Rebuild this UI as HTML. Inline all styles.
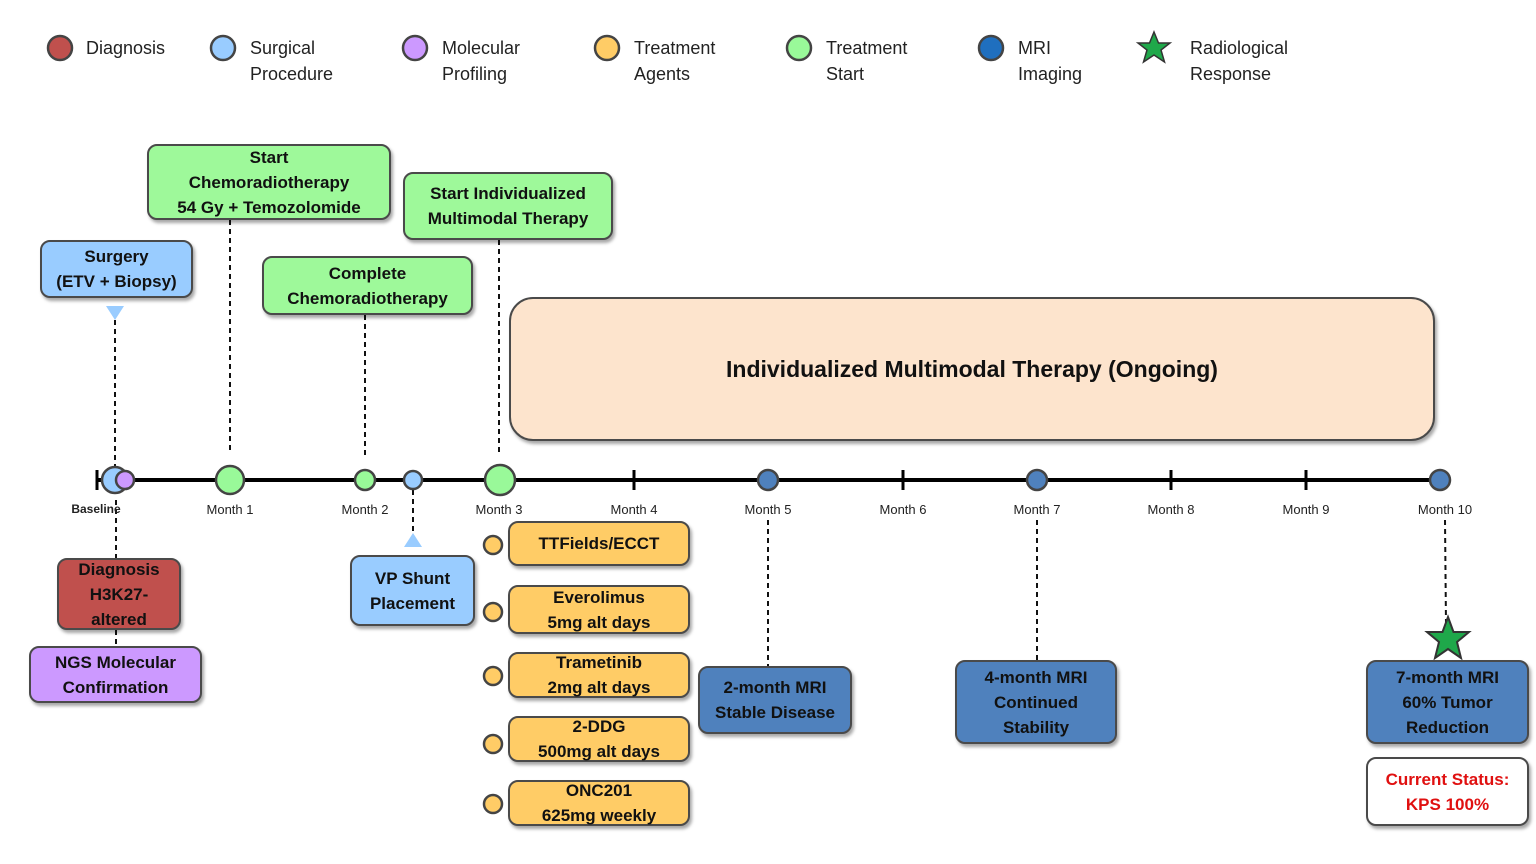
<!DOCTYPE html>
<html><head><meta charset="utf-8"><style>
html,body{margin:0;padding:0;background:#fff;}
body{width:1536px;height:864px;position:relative;overflow:hidden;font-family:"Liberation Sans",sans-serif;}
.b{position:absolute;box-sizing:border-box;border:2px solid #4a4a4a;border-radius:10px;display:flex;align-items:center;justify-content:center;text-align:center;font-weight:bold;font-size:17px;line-height:25px;color:#111;box-shadow:2px 3px 3px rgba(0,0,0,0.35);}
.g{background:#9ef99a;}
.lb{background:#99ccff;}
.o{background:#ffcc66;}
.m{background:#4f81bd;}
.lg{position:absolute;font-size:18px;line-height:26px;color:#222;}
.ml{position:absolute;font-size:13px;color:#222;transform:translateX(-50%);top:502px;}
</style></head><body>
<svg width="1536" height="864" style="position:absolute;left:0;top:0">
<g stroke="#444" stroke-width="2.5">
<circle cx="60" cy="48" r="12" fill="#c0504d"/>
<circle cx="223" cy="48" r="12" fill="#99ccff"/>
<circle cx="415" cy="48" r="12" fill="#cc99ff"/>
<circle cx="607" cy="48" r="12" fill="#ffcc66"/>
<circle cx="799" cy="48" r="12" fill="#99f999"/>
<circle cx="991" cy="48" r="12" fill="#1f6fbf"/>
</g>
<polygon points="1154,32 1158.5,43 1170,43 1161,50 1164.5,62 1154,55 1143.5,62 1147,50 1138,43 1149.5,43" fill="#1fa84a" stroke="#333" stroke-width="1.5"/>
<g stroke="#111" stroke-width="2" stroke-dasharray="5,4" fill="none">
<line x1="115" y1="320" x2="115" y2="468"/>
<line x1="230" y1="220" x2="230" y2="452"/>
<line x1="365" y1="315" x2="365" y2="455"/>
<line x1="499" y1="240" x2="499" y2="455"/>
<line x1="116" y1="500" x2="116" y2="558"/>
<line x1="116" y1="630" x2="116" y2="646"/>
<line x1="413" y1="490" x2="413" y2="535"/>
<line x1="768" y1="520" x2="768" y2="666"/>
<line x1="1037" y1="520" x2="1037" y2="660"/>
<line x1="1445" y1="520" x2="1446" y2="625"/>
</g>
<polygon points="106,306 124,306 115,320" fill="#99ccff"/>
<polygon points="404,547 422,547 413,533" fill="#99ccff"/>
<line x1="97" y1="480" x2="1440" y2="480" stroke="#000" stroke-width="4"/>
<line x1="97" y1="470" x2="97" y2="490" stroke="#000" stroke-width="3"/>
<g stroke="#000" stroke-width="3">
<line x1="634" y1="470" x2="634" y2="490"/>
<line x1="903" y1="470" x2="903" y2="490"/>
<line x1="1171" y1="470" x2="1171" y2="490"/>
<line x1="1306" y1="470" x2="1306" y2="490"/>
</g>
<g stroke="#444" stroke-width="2.5">
<circle cx="115" cy="480" r="13" fill="#99ccff"/>
<circle cx="125" cy="480" r="9" fill="#cc99ff"/>
<circle cx="230" cy="480" r="14" fill="#99f999"/>
<circle cx="365" cy="480" r="10" fill="#99f999"/>
<circle cx="413" cy="480" r="9" fill="#99ccff"/>
<circle cx="500" cy="480" r="15" fill="#99f999"/>
<circle cx="768" cy="480" r="10" fill="#4f81bd"/>
<circle cx="1037" cy="480" r="10" fill="#4f81bd"/>
<circle cx="1440" cy="480" r="10" fill="#4f81bd"/>
<circle cx="493" cy="545" r="9" fill="#ffcc66"/>
<circle cx="493" cy="612" r="9" fill="#ffcc66"/>
<circle cx="493" cy="676" r="9" fill="#ffcc66"/>
<circle cx="493" cy="744" r="9" fill="#ffcc66"/>
<circle cx="493" cy="804" r="9" fill="#ffcc66"/>
</g>
<polygon points="1448,617 1453.5,632 1469,632 1457,642 1461,658 1448,649 1435,658 1439,642 1427,632 1442.5,632" fill="#1fa84a" stroke="#333" stroke-width="2"/>
</svg>

<div class="lg" style="left:86px;top:35px">Diagnosis</div>
<div class="lg" style="left:250px;top:35px">Surgical<br>Procedure</div>
<div class="lg" style="left:442px;top:35px">Molecular<br>Profiling</div>
<div class="lg" style="left:634px;top:35px">Treatment<br>Agents</div>
<div class="lg" style="left:826px;top:35px">Treatment<br>Start</div>
<div class="lg" style="left:1018px;top:35px">MRI<br>Imaging</div>
<div class="lg" style="left:1190px;top:35px">Radiological<br>Response</div>

<div class="ml" style="left:96px;font-weight:bold;font-size:12px">Baseline</div>
<div class="ml" style="left:230px">Month 1</div>
<div class="ml" style="left:365px">Month 2</div>
<div class="ml" style="left:499px">Month 3</div>
<div class="ml" style="left:634px">Month 4</div>
<div class="ml" style="left:768px">Month 5</div>
<div class="ml" style="left:903px">Month 6</div>
<div class="ml" style="left:1037px">Month 7</div>
<div class="ml" style="left:1171px">Month 8</div>
<div class="ml" style="left:1306px">Month 9</div>
<div class="ml" style="left:1445px">Month 10</div>

<div class="b g" style="left:147px;top:144px;width:244px;height:76px">Start<br>Chemoradiotherapy<br>54 Gy + Temozolomide</div>
<div class="b g" style="left:403px;top:172px;width:210px;height:68px">Start Individualized<br>Multimodal Therapy</div>
<div class="b lb" style="left:40px;top:240px;width:153px;height:58px">Surgery<br>(ETV + Biopsy)</div>
<div class="b g" style="left:262px;top:256px;width:211px;height:59px">Complete<br>Chemoradiotherapy</div>
<div class="b" style="left:509px;top:297px;width:926px;height:144px;background:#fde4cd;border-radius:24px;font-size:23px">Individualized Multimodal Therapy (Ongoing)</div>

<div class="b" style="left:57px;top:558px;width:124px;height:72px;background:#c0504d">Diagnosis<br>H3K27-<br>altered</div>
<div class="b" style="left:29px;top:646px;width:173px;height:57px;background:#cc99ff">NGS Molecular<br>Confirmation</div>
<div class="b lb" style="left:350px;top:555px;width:125px;height:71px">VP Shunt<br>Placement</div>

<div class="b o" style="left:508px;top:521px;width:182px;height:45px">TTFields/ECCT</div>
<div class="b o" style="left:508px;top:585px;width:182px;height:49px">Everolimus<br>5mg alt days</div>
<div class="b o" style="left:508px;top:652px;width:182px;height:46px">Trametinib<br>2mg alt days</div>
<div class="b o" style="left:508px;top:716px;width:182px;height:46px">2-DDG<br>500mg alt days</div>
<div class="b o" style="left:508px;top:780px;width:182px;height:46px">ONC201<br>625mg weekly</div>

<div class="b m" style="left:698px;top:666px;width:154px;height:68px">2-month MRI<br>Stable Disease</div>
<div class="b m" style="left:955px;top:660px;width:162px;height:84px">4-month MRI<br>Continued<br>Stability</div>
<div class="b m" style="left:1366px;top:660px;width:163px;height:84px">7-month MRI<br>60% Tumor<br>Reduction</div>
<div class="b" style="left:1366px;top:757px;width:163px;height:69px;background:#fff;color:#e01010">Current Status:<br>KPS 100%</div>
</body></html>
